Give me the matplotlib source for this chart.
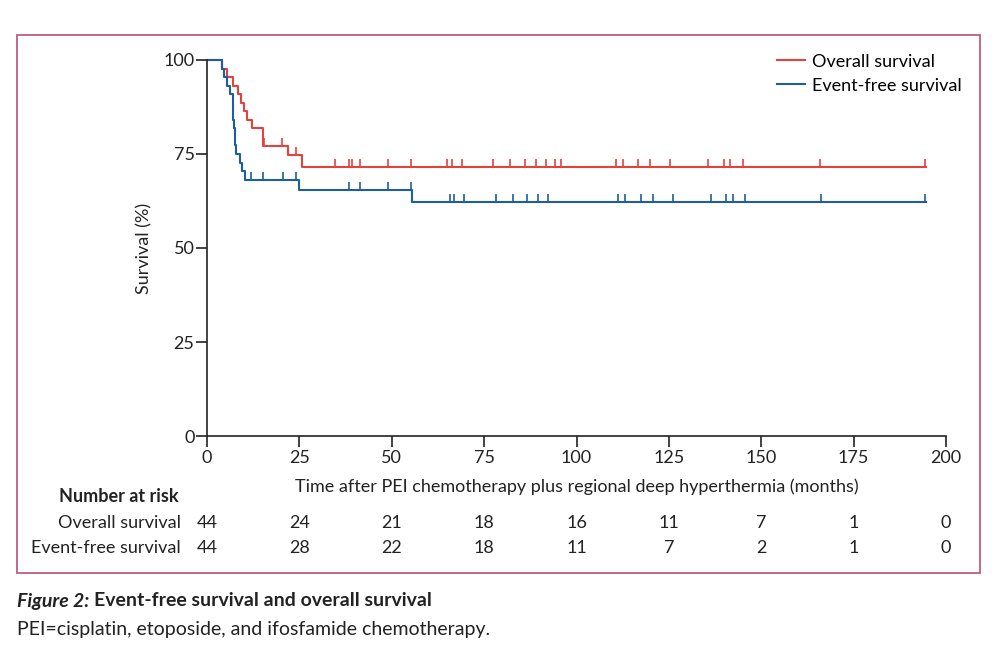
import numpy as np
import matplotlib.pyplot as plt
from matplotlib.patches import Rectangle

plt.rcParams['font.family'] = ['Lato', 'DejaVu Sans']

# Kaplan-Meier steps (months, %)
os_times = [0, 4.1, 5.5, 6.9, 8.3, 9.1, 10.1, 10.7, 12.3, 15.1, 21.9, 25.7, 194.5]
os_surv = [100, 97.7, 95.4, 93.2, 90.9, 88.6, 86.4, 84.1, 81.8, 77.1, 74.6, 71.6, 71.6]
efs_times = [0, 4.1, 4.7, 5.5, 6.2, 6.9, 7.1, 7.3, 7.5, 7.8, 8.9, 9.4, 10.3, 24.9, 55.6, 194.5]
efs_surv = [100, 97.7, 95.4, 93.2, 90.9, 86.4, 84.1, 81.8, 77.3, 75.0, 72.7, 70.5, 68.2, 65.4, 62.3, 62.3]

# censored observations
os_cens = [10.9, 15.3, 20.2, 24.0, 34.6, 38.4, 39.2, 41.3, 49.1, 55.2, 65.0, 66.2, 68.9,
           77.5, 82.0, 86.0, 89.0, 91.7, 94.3, 95.7, 110.7, 112.5, 116.7, 119.9, 125.3,
           135.7, 139.9, 141.5, 145.0, 165.9, 194.3]
efs_cens = [11.8, 15.2, 20.6, 24.0, 38.5, 41.4, 49.1, 55.2, 65.8, 66.8, 69.6, 78.2, 82.7,
            86.7, 89.5, 92.2, 111.1, 113.1, 117.4, 120.6, 126.0, 136.3, 140.5, 142.3,
            145.6, 166.1, 194.3]

risk_times = [0, 25, 50, 75, 100, 125, 150, 175, 200]
os_risk = [44, 24, 21, 18, 16, 11, 7, 1, 0]
efs_risk = [44, 28, 22, 18, 11, 7, 2, 1, 0]

RED = '#e2433d'
BLUE = '#1f5e9c'
FRAME = '#c05a82'
INK = '#222222'


def step_value(times, surv, t):
    i = np.searchsorted(times, t, side='right') - 1
    return np.array(surv)[i]


fig = plt.figure(figsize=(10.07, 6.54), dpi=100)
ax = fig.add_axes([0.2056, 0.3333, 0.7338, 0.575])

for times, surv, cens, col, lab in [(os_times, os_surv, os_cens, RED, 'Overall survival'),
                                    (efs_times, efs_surv, efs_cens, BLUE, 'Event-free survival')]:
    ax.step(times, surv, where='post', color=col, lw=1.5, label=lab, clip_on=False)
    ax.plot(cens, step_value(times, surv, cens), ls='none', marker=2, ms=6,
            mew=1.2, color=col, clip_on=False)

ax.set_xlim(0, 200)
ax.set_ylim(0, 100)
ax.set_xticks(risk_times)
ax.set_yticks([0, 25, 50, 75, 100])
for s in ['top', 'right']:
    ax.spines[s].set_visible(False)
for s in ['left', 'bottom']:
    ax.spines[s].set_color(INK)
    ax.spines[s].set_linewidth(1.2)
ax.tick_params(direction='out', length=8, width=1.2, color=INK, labelsize=13,
               labelcolor=INK)
ax.tick_params(axis='x', pad=2)
ax.tick_params(axis='y', pad=1)
ax.set_xlabel('Time after PEI chemotherapy plus regional deep hyperthermia (months)',
              fontsize=13, color=INK, labelpad=9)
ax.set_ylabel('Survival (%)', fontsize=13, color=INK, labelpad=8)

ax.legend(loc='upper right', bbox_to_anchor=(1.043, 1.06), frameon=False,
          fontsize=13, handlelength=1.55, handletextpad=0.4, labelspacing=0.45)

# number at risk table
fig.text(179 / 1007, 1 - 497 / 654, 'Number at risk', fontsize=13, fontweight='bold',
         ha='right', va='center', color=INK)
for row_y, lab, vals in [(523, 'Overall survival', os_risk), (548, 'Event-free survival', efs_risk)]:
    yf = 1 - row_y / 654
    fig.text(181 / 1007, yf, lab, fontsize=13, ha='right', va='center', color=INK)
    for t, v in zip(risk_times, vals):
        xf = fig.transFigure.inverted().transform(ax.transData.transform((t, 0)))[0]
        fig.text(xf, yf, str(v), fontsize=13, ha='center', va='center', color=INK)

fig.patches.append(Rectangle((17 / 1007, 1 - 573 / 654), 963 / 1007, 538 / 654,
                             transform=fig.transFigure, fill=False, ec=FRAME, lw=1.3))

# caption
r = fig.canvas.get_renderer()
t1 = fig.text(17 / 1007, 1 - 601 / 654, 'Figure 2:', fontsize=14, fontweight='bold',
              fontstyle='italic', ha='left', va='center', color=INK)
x_end = t1.get_window_extent(r).x1 / fig.bbox.width
fig.text(x_end + 5 / 1007, 1 - 601 / 654, 'Event-free survival and overall survival',
         fontsize=14, fontweight='bold', ha='left', va='center', color=INK)
fig.text(17 / 1007, 1 - 629 / 654, 'PEI=cisplatin, etoposide, and ifosfamide chemotherapy.',
         fontsize=14, ha='left', va='center', color=INK)

fig.savefig('out.png', dpi=100)
